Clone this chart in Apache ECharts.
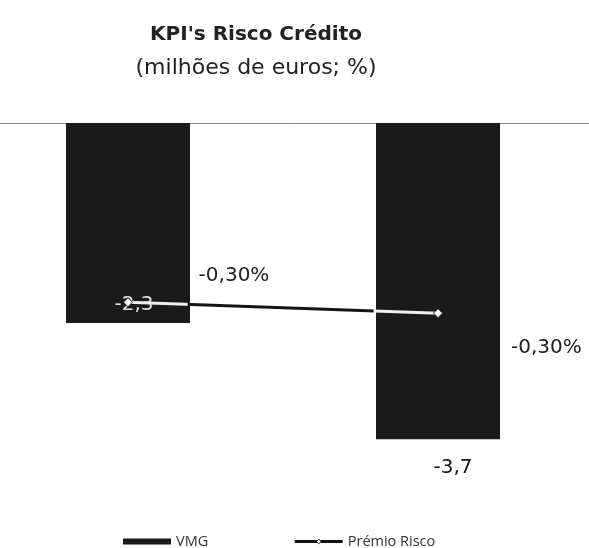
<!DOCTYPE html>
<html>
<head>
<meta charset="utf-8">
<script src="https://cdn.jsdelivr.net/npm/echarts@6/dist/echarts.min.js"></script>
<style>
  html, body { margin: 0; padding: 0; background: #fff; }
  #chart { width: 589px; height: 548px; }
</style>
</head>
<body>
<div id="chart"></div>
<script>
// Credit risk KPIs: VMG (million euros) and risk premium (%)
const categories = ['1', '2'];
const vmgValues = [-2.34, -3.7];
const premioValues = [-0.296, -0.304];
const seriesNames = ['VMG', 'Prémio Risco'];

const fmtNum = (v, d) => v.toFixed(d).replace('.', ',');
const FONT = 'DejaVu Sans';

const chart = echarts.init(document.getElementById('chart'), null, { renderer: 'canvas' });

chart.setOption({
  backgroundColor: '#ffffff',
  animation: false,
  title: {
    text: "KPI's Risco Crédito",
    subtext: '(milhões de euros; %)',
    left: 251,
    textAlign: 'center',
    top: 20,
    itemGap: 12,
    textStyle: { fontFamily: FONT, fontSize: 20, fontWeight: 'bold', color: '#222' },
    subtextStyle: { fontFamily: FONT, fontSize: 22, color: '#222' }
  },
  legend: {
    top: 529,
    left: 118,
    itemGap: 85,
    textStyle: { fontFamily: 'Open Sans', fontSize: 14.5, color: '#333' },
    data: [
      { name: seriesNames[0], icon: 'rect', itemStyle: { color: '#1a1a1a' } },
      {
        name: seriesNames[1],
        lineStyle: { color: '#151515', width: 3 },
        itemStyle: { color: '#ffffff', borderColor: '#222', borderWidth: 1 }
      }
    ],
    itemWidth: 48,
    itemHeight: 6
  },
  grid: { left: -27, top: 123, width: 620, bottom: 83, outerBoundsMode: 'none', containLabel: false },
  xAxis: {
    type: 'category',
    data: categories,
    position: 'top',
    axisLine: { onZero: true, lineStyle: { color: '#888', width: 1 } },
    axisTick: { show: false },
    axisLabel: { show: false },
    splitLine: { show: false }
  },
  yAxis: [
    { type: 'value', min: -4, max: 0, show: false, splitLine: { show: false } },
    { type: 'value', min: -0.415, max: -0.165, show: false, splitLine: { show: false } }
  ],
  series: [
    {
      name: seriesNames[0],
      type: 'bar',
      yAxisIndex: 0,
      barWidth: 124,
      itemStyle: { color: '#1a1a1a' },
      data: vmgValues.map((v, i) => ({
        value: v,
        label: i === 0
          ? { show: true, position: 'insideBottom', distance: 8, offset: [6, 0], color: '#e0e0e0' }
          : { show: true, position: 'bottom', distance: 18, offset: [15, 0], color: '#111' }
      })),
      label: {
        fontFamily: FONT,
        fontSize: 20,
        formatter: p => fmtNum(p.value, 1)
      },
      z: 2
    },
    {
      name: seriesNames[1],
      type: 'line',
      yAxisIndex: 1,
      symbol: 'diamond',
      symbolSize: 9,
      lineStyle: {
        width: 3,
        color: {
          type: 'linear', x: 0, y: 0, x2: 1, y2: 0,
          colorStops: [
            { offset: 0, color: '#f0f0f0' },
            { offset: 0.195, color: '#f0f0f0' },
            { offset: 0.2, color: '#151515' },
            { offset: 0.785, color: '#151515' },
            { offset: 0.79, color: '#f0f0f0' },
            { offset: 1, color: '#f0f0f0' }
          ]
        }
      },
      itemStyle: { color: '#ffffff', borderColor: '#222', borderWidth: 1 },
      data: premioValues.map((v, i) => ({
        value: v,
        label: i === 0
          ? { show: true, position: 'top', offset: [106, -6] }
          : { show: true, position: 'right', offset: [63, 35] }
      })),
      label: {
        fontFamily: FONT,
        fontSize: 20,
        color: '#222',
        formatter: p => fmtNum(p.value, 2) + '%'
      },
      z: 3
    }
  ]
});
</script>
</body>
</html>
